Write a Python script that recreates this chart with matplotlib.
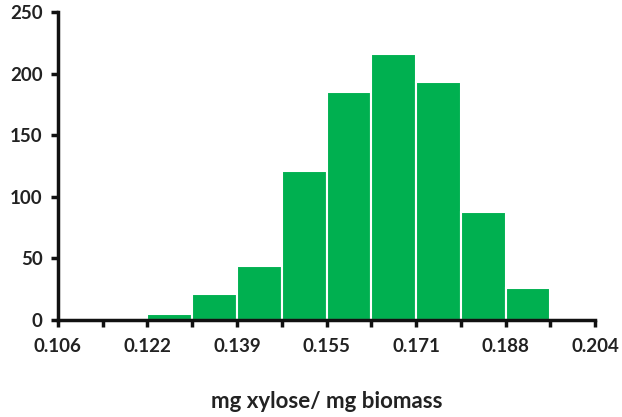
import numpy as np
import matplotlib
matplotlib.use('Agg')
import matplotlib.pyplot as plt

plt.rcParams['font.family'] = ['Lato', 'DejaVu Sans']

# bin edges (12 equal bins from 0.106 to 0.204) and counts per bin
x_min = 0.106
x_max = 0.204
n_bins = 12
counts = [0, 0, 5, 21, 44, 121, 185, 216, 193, 88, 26, 0]
tick_labels = ['0.106', '0.122', '0.139', '0.155', '0.171', '0.188', '0.204']
y_ticks = [0, 50, 100, 150, 200, 250]

edges = np.linspace(x_min, x_max, n_bins + 1)
width = edges[1] - edges[0]

fig = plt.figure(figsize=(6.22, 4.17), dpi=100)
ax = fig.add_axes([0.093, 0.233, 0.864, 0.738])

ax.bar(edges[:-1], counts, width=width, align='edge',
       color='#00B050', edgecolor='white', linewidth=1.5, zorder=2)

ax.set_xlim(x_min, x_max)
ax.set_ylim(0, 250)
ax.set_xticks(edges)
ax.set_xticklabels([tick_labels[i // 2] if i % 2 == 0 else '' for i in range(len(edges))])
ax.set_yticks(y_ticks)

for s in ['top', 'right']:
    ax.spines[s].set_visible(False)
for s in ['left', 'bottom']:
    ax.spines[s].set_linewidth(2.5)
    ax.spines[s].set_color('#111111')
    ax.spines[s].set_zorder(3)

ax.tick_params(axis='both', width=2.5, length=5, color='#111111',
               labelsize=13.5, labelcolor='#222222', pad=6)
ax.tick_params(axis='x', pad=8)
for lbl in ax.get_xticklabels() + ax.get_yticklabels():
    lbl.set_fontweight('bold')

ax.set_xlabel('mg xylose/ mg biomass', fontsize=16, fontweight='bold',
              color='#222222', labelpad=26)

fig.savefig('out.png', dpi=100)
